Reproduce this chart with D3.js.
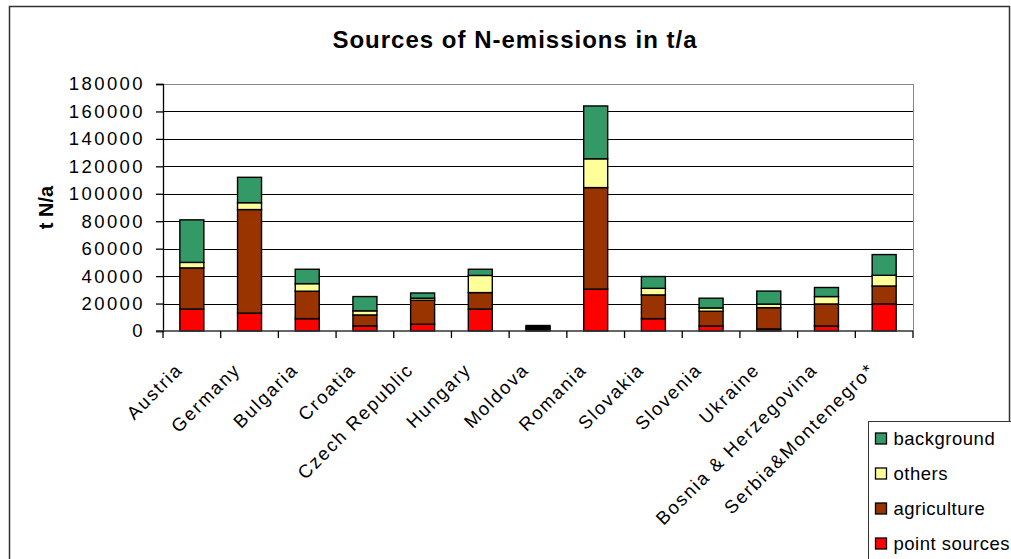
<!DOCTYPE html>
<html lang="en">
<head>
    <meta charset="utf-8">
    <title>Sources of N-emissions</title>
    <script type="text/javascript" src="https://d3js.org/d3.v7.min.js"></script>
    <style>
        body { margin: 0; background: #fff; }
        text { font-family: "Liberation Sans", Arial, sans-serif; fill: #000; }
        .ticklabel { font-size: 18.5px; letter-spacing: 2.4px; }
        .catlabel { font-size: 18.5px; letter-spacing: 1.8px; }
        .title { font-size: 24px; font-weight: bold; letter-spacing: 1px; }
        .ytitle { font-size: 20px; font-weight: bold; }
        .legendtext { font-size: 18.5px; letter-spacing: 0.5px; }
        .grid { stroke: #000; stroke-width: 1; shape-rendering: crispEdges; }
        .bar { stroke: #000; stroke-width: 1.4; }
    </style>
</head>
<body>
<div id="container"></div>
<script type="text/javascript">
    const w = 1011;
    const h = 559;

    // data (t N/a)
    const countries = ["Austria", "Germany", "Bulgaria", "Croatia", "Czech Republic", "Hungary", "Moldova",
        "Romania", "Slovakia", "Slovenia", "Ukraine", "Bosnia & Herzegovina", "Serbia&Montenegro*"];
    const pointSources = [16000, 13000, 9000, 3700, 4900, 16000, 1000, 30500, 9000, 3600, 1500, 3600, 19700];
    const agriculture = [30000, 75500, 20000, 8000, 17500, 12000, 1000, 74000, 17300, 10800, 15500, 16100, 13100];
    const others = [4000, 5000, 5500, 3000, 1500, 12500, 1000, 21000, 4800, 2400, 2600, 5400, 7800];
    const background = [31000, 18500, 10500, 10400, 3800, 4500, 1000, 38500, 8600, 7100, 9500, 6600, 15100];
    const yTicks = [0, 20000, 40000, 60000, 80000, 100000, 120000, 140000, 160000, 180000];

    const seriesKeys = ["point sources", "agriculture", "others", "background"];
    const colors = {
        "point sources": "#ff0000",
        "agriculture": "#993300",
        "others": "#ffff99",
        "background": "#339966"
    };

    const rows = countries.map(function (c, i) {
        return {
            country: c,
            "point sources": pointSources[i],
            "agriculture": agriculture[i],
            "others": others[i],
            "background": background[i]
        };
    });

    const plot = {left: 163, right: 913, top: 84, bottom: 331};

    const svg = d3.select("div#container").append("svg")
        .attr("width", w)
        .attr("height", h);

    // outer chart frame
    svg.append("rect")
        .attr("x", 9.5).attr("y", 6.5)
        .attr("width", 1000).attr("height", 560)
        .attr("fill", "#fff")
        .attr("stroke", "#333")
        .attr("stroke-width", 1.5);

    const x = d3.scaleBand()
        .domain(countries)
        .range([plot.left, plot.right])
        .paddingInner(0.584)
        .paddingOuter(0.292);

    const y = d3.scaleLinear()
        .domain([0, 180000])
        .range([plot.bottom, plot.top]);

    // gridlines
    svg.append("g")
        .selectAll("line")
        .data(yTicks.filter(function (d) { return d > 0; }))
        .enter()
        .append("line")
        .attr("class", "grid")
        .attr("x1", plot.left).attr("x2", plot.right)
        .attr("y1", function (d) { return Math.round(y(d)) + 0.5; })
        .attr("y2", function (d) { return Math.round(y(d)) + 0.5; })
        .style("stroke", function (d) { return d === 180000 ? "#888" : "#000"; });

    // right border of plot area
    svg.append("line")
        .attr("class", "grid")
        .style("stroke", "#888")
        .attr("x1", plot.right + 0.5).attr("x2", plot.right + 0.5)
        .attr("y1", plot.top).attr("y2", plot.bottom);

    // stacked bars
    const stacked = d3.stack().keys(seriesKeys)(rows);

    svg.append("g")
        .selectAll("g")
        .data(stacked)
        .enter()
        .append("g")
        .attr("fill", function (d) { return colors[d.key]; })
        .selectAll("rect")
        .data(function (d) { return d; })
        .enter()
        .append("rect")
        .attr("class", "bar")
        .attr("x", function (d) { return x(d.data.country); })
        .attr("width", x.bandwidth())
        .attr("y", function (d) { return y(d[1]); })
        .attr("height", function (d) { return y(d[0]) - y(d[1]); });

    // y axis
    const yAxis = svg.append("g")
        .attr("transform", "translate(" + plot.left + ",0)")
        .call(d3.axisLeft(y).tickValues(yTicks).tickSize(7).tickPadding(11).tickFormat(d3.format("d")));
    yAxis.select(".domain").attr("stroke", "#000").attr("stroke-width", 1.3);
    yAxis.selectAll(".tick line").attr("stroke", "#000").attr("stroke-width", 1.3);
    yAxis.selectAll(".tick text")
        .attr("class", "ticklabel")
        .attr("font-size", null)
        .attr("font-family", null);

    // x axis line and category boundary ticks
    svg.append("line")
        .attr("x1", plot.left - 7).attr("x2", plot.right)
        .attr("y1", plot.bottom).attr("y2", plot.bottom)
        .attr("stroke", "#333").attr("stroke-width", 1.5);

    const step = x.step();
    svg.append("g")
        .selectAll("line")
        .data(d3.range(countries.length + 1))
        .enter()
        .append("line")
        .attr("x1", function (i) { return plot.left + i * step; })
        .attr("x2", function (i) { return plot.left + i * step; })
        .attr("y1", plot.bottom)
        .attr("y2", plot.bottom + 7)
        .attr("stroke", "#000")
        .attr("stroke-width", 1.3);

    // category labels, rotated
    svg.append("g")
        .selectAll("text")
        .data(countries)
        .enter()
        .append("text")
        .attr("class", "catlabel")
        .attr("text-anchor", "end")
        .attr("transform", function (d) {
            return "translate(" + (x(d) + x.bandwidth() / 2 - 8) + "," + (plot.bottom + 40) + ") rotate(-45)";
        })
        .text(function (d) { return d; });

    // titles
    svg.append("text")
        .attr("class", "title")
        .attr("x", 515).attr("y", 48)
        .attr("text-anchor", "middle")
        .text("Sources of N-emissions in t/a");

    svg.append("text")
        .attr("class", "ytitle")
        .attr("text-anchor", "middle")
        .attr("transform", "translate(53," + ((plot.top + plot.bottom) / 2) + ") rotate(-90)")
        .text("t N/a");

    // legend
    const legend = svg.append("g").attr("transform", "translate(868.5,421.5)");
    legend.append("rect")
        .attr("width", 200).attr("height", 200)
        .attr("fill", "#fff")
        .attr("stroke", "#333")
        .attr("stroke-width", 1);

    const legendKeys = seriesKeys.slice().reverse();
    const items = legend.selectAll("g.item")
        .data(legendKeys)
        .enter()
        .append("g")
        .attr("class", "item")
        .attr("transform", function (d, i) { return "translate(0," + (17 + i * 35) + ")"; });
    items.append("rect")
        .attr("x", 7).attr("y", -5.5)
        .attr("width", 11).attr("height", 11)
        .attr("fill", function (d) { return colors[d]; })
        .attr("stroke", "#000")
        .attr("stroke-width", 1.3);
    items.append("text")
        .attr("class", "legendtext")
        .attr("x", 25).attr("y", 6.5)
        .text(function (d) { return d; });
</script>
</body>
</html>
